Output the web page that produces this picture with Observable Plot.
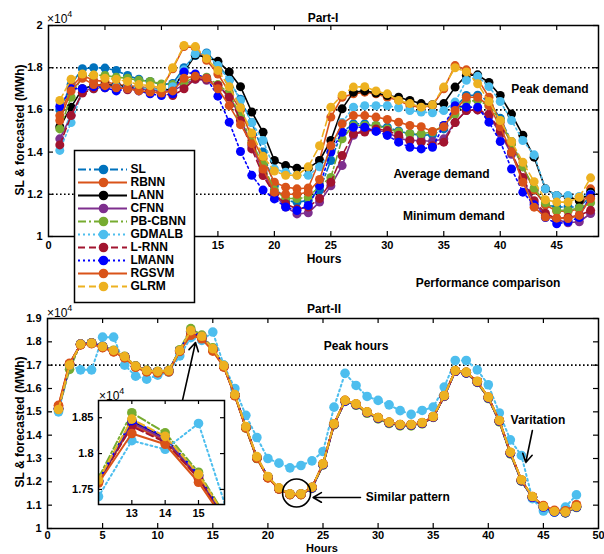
<!DOCTYPE html>
<html><head><meta charset="utf-8">
<script src="https://cdn.jsdelivr.net/npm/d3@7"></script>
<script src="https://cdn.jsdelivr.net/npm/@observablehq/plot@0.6"></script>
<style>
body{margin:0;background:#fff;}
#wrap{position:relative;width:604px;height:554px;overflow:hidden;font-family:'Liberation Sans',Arial,sans-serif;font-weight:bold;color:#000;background:#fff;}
#wrap svg{position:absolute;}
.lbl{position:absolute;white-space:nowrap;font-size:12px;line-height:1;}
.sci{position:absolute;white-space:nowrap;font-size:12px;font-weight:normal;line-height:1;}
.sci sup{font-size:9px;position:relative;top:-1px;}
</style></head><body><div id="wrap"></div>
<script>
const hours = [1,2,3,4,5,6,7,8,9,10,11,12,13,14,15,16,17,18,19,20,21,22,23,24,25,26,27,28,29,30,31,32,33,34,35,36,37,38,39,40,41,42,43,44,45,46,47,48];
const seriesNames = ["SL","RBNN","LANN","CFNN","PB-CBNN","GDMALB","L-RNN","LMANN","RGSVM","GLRM"];
const seriesColors = ["#0072BD","#D95319","#000000","#7E2F8E","#77AC30","#4DBEEE","#A2142F","#0000FF","#D95319","#EDB120"];
const seriesDash = ["8,3,2,3", null, null, null, "8,3,2,3", "2,3", "7,4", "2,3", null, "7,4"];

// Part-I values (x10^4 MWh)
const top_SL = [1.600,1.720,1.795,1.800,1.798,1.787,1.763,1.745,1.735,1.720,1.725,1.800,
1.858,1.870,1.820,1.740,1.650,1.540,1.400,1.240,1.170,1.163,1.170,1.220,
1.360,1.494,1.534,1.534,1.526,1.518,1.500,1.487,1.480,1.482,1.510,1.613,
1.668,1.670,1.640,1.560,1.450,1.330,1.220,1.150,1.140,1.140,1.140,1.190];
const top_RBNN = [1.573,1.708,1.763,1.740,1.735,1.720,1.715,1.710,1.705,1.700,1.795,1.900,
1.895,1.835,1.770,1.684,1.600,1.470,1.370,1.257,1.234,1.226,1.230,1.360,
1.566,1.660,1.676,1.684,1.676,1.660,1.645,1.620,1.613,1.620,1.700,1.810,
1.790,1.747,1.660,1.540,1.440,1.330,1.220,1.150,1.120,1.120,1.130,1.226];
const top_LANN = [1.520,1.613,1.700,1.716,1.720,1.715,1.710,1.700,1.695,1.690,1.700,1.780,
1.860,1.850,1.830,1.780,1.710,1.590,1.494,1.360,1.336,1.324,1.324,1.360,
1.455,1.605,1.684,1.690,1.680,1.668,1.660,1.645,1.630,1.625,1.630,1.708,
1.763,1.766,1.730,1.668,1.580,1.480,1.376,1.226,1.194,1.190,1.170,1.210];
const top_CFNN = [1.463,1.573,1.684,1.708,1.715,1.710,1.705,1.700,1.695,1.690,1.690,1.720,
1.745,1.740,1.710,1.670,1.560,1.430,1.310,1.200,1.140,1.107,1.112,1.163,
1.240,1.336,1.480,1.510,1.502,1.495,1.465,1.455,1.455,1.450,1.463,1.540,
1.597,1.600,1.570,1.490,1.390,1.270,1.160,1.100,1.080,1.065,1.070,1.109];
const top_PBCBNN = [1.510,1.660,1.760,1.765,1.763,1.755,1.750,1.740,1.735,1.723,1.720,1.730,
1.755,1.755,1.720,1.680,1.570,1.447,1.340,1.220,1.180,1.180,1.185,1.240,
1.280,1.463,1.526,1.526,1.526,1.510,1.495,1.487,1.487,1.495,1.526,1.580,
1.640,1.645,1.620,1.550,1.440,1.330,1.230,1.160,1.124,1.124,1.135,1.160];
const top_GDMALB = [1.408,1.540,1.684,1.700,1.708,1.710,1.710,1.705,1.700,1.695,1.710,1.790,
1.866,1.866,1.810,1.740,1.645,1.540,1.455,1.320,1.305,1.290,1.290,1.330,
1.400,1.540,1.613,1.620,1.620,1.620,1.610,1.597,1.590,1.586,1.597,1.637,
1.740,1.760,1.710,1.640,1.550,1.455,1.387,1.226,1.194,1.194,1.190,1.200];
const top_LRNN = [1.434,1.573,1.680,1.700,1.705,1.700,1.695,1.695,1.690,1.678,1.668,1.700,
1.747,1.745,1.716,1.660,1.550,1.415,1.289,1.200,1.155,1.130,1.140,1.180,
1.257,1.384,1.487,1.495,1.510,1.502,1.480,1.455,1.447,1.430,1.447,1.540,
1.597,1.600,1.580,1.500,1.400,1.280,1.170,1.110,1.085,1.090,1.100,1.124];
const top_LMANN = [1.616,1.700,1.700,1.710,1.705,1.690,1.700,1.690,1.676,1.668,1.676,1.780,
1.770,1.750,1.665,1.542,1.403,1.290,1.220,1.178,1.140,1.123,1.147,1.240,
1.400,1.494,1.518,1.518,1.498,1.479,1.447,1.423,1.415,1.423,1.526,1.620,
1.613,1.613,1.542,1.450,1.320,1.210,1.150,1.090,1.060,1.070,1.090,1.198];
const top_RGSVM = [1.550,1.690,1.750,1.720,1.715,1.705,1.700,1.690,1.685,1.680,1.690,1.750,
1.760,1.750,1.700,1.620,1.530,1.440,1.320,1.210,1.200,1.200,1.210,1.270,
1.430,1.534,1.573,1.573,1.566,1.555,1.542,1.526,1.520,1.498,1.520,1.597,
1.660,1.660,1.620,1.520,1.400,1.257,1.139,1.092,1.087,1.085,1.100,1.180];
const top_GLRM = [1.645,1.745,1.770,1.765,1.750,1.745,1.735,1.720,1.715,1.705,1.800,1.905,
1.900,1.843,1.787,1.710,1.610,1.490,1.380,1.310,1.290,1.290,1.330,1.430,
1.613,1.670,1.708,1.710,1.690,1.676,1.645,1.630,1.613,1.624,1.708,1.800,
1.780,1.724,1.640,1.550,1.450,1.352,1.260,1.174,1.163,1.163,1.186,1.278];

// Part-II values (x10^4 MWh)
const bot_SL = [1.513,1.702,1.789,1.794,1.779,1.760,1.735,1.694,1.675,1.671,1.675,1.762,
1.845,1.822,1.770,1.696,1.572,1.434,1.304,1.220,1.171,1.147,1.147,1.174,
1.274,1.446,1.546,1.531,1.497,1.473,1.453,1.443,1.443,1.451,1.477,1.567,
1.674,1.667,1.628,1.560,1.460,1.323,1.205,1.134,1.092,1.071,1.068,1.092];
const bot_RBNN = [1.525,1.706,1.788,1.793,1.776,1.758,1.732,1.692,1.672,1.668,1.672,1.760,
1.840,1.818,1.765,1.693,1.570,1.432,1.302,1.218,1.170,1.146,1.146,1.175,
1.276,1.447,1.548,1.532,1.498,1.474,1.454,1.444,1.444,1.452,1.478,1.568,
1.675,1.668,1.629,1.561,1.461,1.325,1.207,1.136,1.096,1.076,1.074,1.100];
const bot_LANN = [1.512,1.701,1.789,1.794,1.779,1.761,1.736,1.695,1.676,1.672,1.676,1.762,
1.844,1.821,1.769,1.695,1.571,1.433,1.303,1.219,1.172,1.147,1.148,1.175,
1.275,1.447,1.547,1.532,1.498,1.474,1.454,1.444,1.444,1.452,1.478,1.568,
1.675,1.668,1.629,1.561,1.461,1.324,1.206,1.135,1.093,1.072,1.069,1.093];
const bot_CFNN = [1.514,1.702,1.790,1.795,1.779,1.761,1.736,1.695,1.676,1.672,1.676,1.762,
1.843,1.820,1.768,1.695,1.571,1.433,1.304,1.220,1.171,1.147,1.147,1.175,
1.275,1.447,1.547,1.532,1.498,1.474,1.454,1.444,1.444,1.452,1.478,1.568,
1.675,1.668,1.629,1.561,1.461,1.324,1.206,1.135,1.093,1.072,1.069,1.093];
const bot_PBCBNN = [1.508,1.682,1.791,1.796,1.781,1.764,1.738,1.697,1.678,1.674,1.678,1.766,
1.857,1.829,1.774,1.699,1.572,1.430,1.300,1.220,1.170,1.145,1.145,1.172,
1.272,1.444,1.545,1.528,1.494,1.470,1.450,1.440,1.440,1.448,1.476,1.566,
1.674,1.666,1.626,1.557,1.457,1.320,1.203,1.133,1.091,1.070,1.067,1.090];
const bot_GDMALB = [1.500,1.700,1.680,1.680,1.820,1.820,1.700,1.653,1.640,1.657,1.670,1.740,
1.818,1.806,1.842,1.700,1.600,1.485,1.390,1.300,1.280,1.260,1.270,1.290,
1.330,1.520,1.665,1.613,1.566,1.549,1.530,1.505,1.489,1.506,1.520,1.606,
1.720,1.720,1.680,1.616,1.495,1.380,1.313,1.128,1.075,1.070,1.092,1.144];
const bot_LRNN = [1.516,1.703,1.789,1.794,1.778,1.760,1.735,1.694,1.675,1.671,1.675,1.761,
1.838,1.816,1.766,1.694,1.571,1.433,1.303,1.219,1.171,1.147,1.147,1.175,
1.275,1.447,1.547,1.532,1.498,1.474,1.454,1.444,1.444,1.452,1.478,1.568,
1.675,1.668,1.629,1.561,1.461,1.324,1.206,1.135,1.094,1.073,1.070,1.094];
const bot_LMANN = [1.512,1.701,1.790,1.795,1.780,1.761,1.736,1.695,1.676,1.672,1.676,1.762,
1.846,1.823,1.770,1.696,1.572,1.434,1.304,1.220,1.171,1.147,1.147,1.174,
1.274,1.446,1.546,1.531,1.497,1.473,1.453,1.443,1.443,1.451,1.477,1.567,
1.674,1.667,1.628,1.560,1.460,1.323,1.205,1.134,1.092,1.071,1.068,1.092];
const bot_RGSVM = [1.528,1.708,1.787,1.792,1.775,1.757,1.731,1.691,1.671,1.667,1.671,1.759,
1.828,1.813,1.760,1.692,1.569,1.431,1.301,1.217,1.169,1.145,1.145,1.176,
1.277,1.448,1.549,1.533,1.499,1.475,1.455,1.445,1.445,1.453,1.479,1.569,
1.676,1.669,1.630,1.562,1.462,1.326,1.208,1.137,1.098,1.078,1.076,1.102];
const bot_GLRM = [1.510,1.700,1.790,1.795,1.780,1.763,1.737,1.696,1.677,1.673,1.677,1.763,
1.848,1.824,1.771,1.698,1.574,1.437,1.308,1.223,1.174,1.149,1.149,1.177,
1.277,1.449,1.549,1.534,1.500,1.476,1.456,1.446,1.446,1.454,1.480,1.570,
1.677,1.670,1.631,1.563,1.463,1.327,1.209,1.137,1.094,1.073,1.070,1.094];

const topXTickMarks = [5,10,15,20,25,30,35,40,45];
const topXTickLabels = [0,15,20,25,30,35,40,45]; // 5 and 10 lie under the legend
const topYTicks = [1,1.2,1.4,1.6,1.8,2];
const topRefLines = [1.8,1.6,1.2];
const botXTicks = [0,5,10,15,20,25,30,35,40,45,50];
const botYTicks = [1,1.1,1.2,1.3,1.4,1.5,1.6,1.7,1.8,1.9];
const botRefLines = [1.7];
const insetXTicks = [13,14,15];
const insetYTicks = [1.75,1.8,1.85];

const topNotes = [
  {t:"Peak demand", h:44.4, v:1.70},
  {t:"Average demand", h:34.8, v:1.294},
  {t:"Minimum demand", h:35.9, v:1.095}
];
const botNotes = [
  {t:"Peak hours", h:28.0, v:1.78},
  {t:"Varitation", h:44.5, v:1.463},
  {t:"Similar pattern", h:32.7, v:1.133}
];
const botArrows = [
  {h1:12.25, v1:1.549, h2:13.43, v2:1.797},
  {h1:28.4, v1:1.133, h2:24.1, v2:1.133},
  {h1:44.0, v1:1.42, h2:43.4, v2:1.283}
];
const botCircle = [{h:22.6, v:1.152}];

const topVals = [top_SL, top_RBNN, top_LANN, top_CFNN, top_PBCBNN, top_GDMALB, top_LRNN, top_LMANN, top_RGSVM, top_GLRM];
const botVals = [bot_SL, bot_RBNN, bot_LANN, bot_CFNN, bot_PBCBNN, bot_GDMALB, bot_LRNN, bot_LMANN, bot_RGSVM, bot_GLRM];

const FONT = "'Liberation Sans', Arial, Helvetica, sans-serif";
const baseStyle = {fontFamily: FONT, fontSize: "11px", fontWeight: "bold", background: "transparent", overflow: "visible"};

function seriesMarks(vals, sw, r, clip) {
  const marks = [];
  seriesNames.forEach((name, i) => {
    const rows = hours.map((h, j) => ({h, v: vals[i][j]}));
    const lo = {x: "h", y: "v", stroke: seriesColors[i], strokeWidth: sw, clip};
    if (seriesDash[i]) lo.strokeDasharray = seriesDash[i];
    marks.push(Plot.line(rows, lo));
    marks.push(Plot.dot(rows, {x: "h", y: "v", fill: seriesColors[i], r, clip}));
  });
  return marks;
}
function innerTicks(xt, yt, pw, ph, len) {
  return [
    Plot.tickX(xt, {x: d => d, insetTop: ph - len, stroke: "black", strokeWidth: 1.2}),
    Plot.tickX(xt, {x: d => d, insetBottom: ph - len, stroke: "black", strokeWidth: 1.2}),
    Plot.tickY(yt, {y: d => d, insetRight: pw - len, stroke: "black", strokeWidth: 1.2}),
    Plot.tickY(yt, {y: d => d, insetLeft: pw - len, stroke: "black", strokeWidth: 1.2})
  ];
}
const fmt = d => String(d);
const wrap = document.getElementById("wrap");
function place(el, left, top) { el.style.left = left + "px"; el.style.top = top + "px"; wrap.appendChild(el); }

// Top chart
const topChart = Plot.plot({
  width: 604, height: 270, marginTop: 25, marginBottom: 34, marginLeft: 48, marginRight: 6,
  style: baseStyle,
  x: {domain: [0, 48.7], ticks: topXTickLabels, tickSize: 0, tickPadding: 5, tickFormat: fmt, label: null},
  y: {domain: [1, 2], ticks: topYTicks, tickSize: 0, tickPadding: 6, tickFormat: fmt, label: null},
  marks: [
    Plot.ruleY(topRefLines, {y: d => d, stroke: "black", strokeWidth: 1.6, strokeDasharray: "1.6,2.4"}),
    ...seriesMarks(topVals, 1.6, 4.5, false),
    Plot.text(topNotes, {x: "h", y: "v", text: "t", fontSize: 12, fontWeight: "bold", fill: "black"}),
    ...innerTicks(topXTickMarks, topYTicks, 550, 211, 5),
    Plot.frame({stroke: "black", strokeWidth: 1.5})
  ]
});
place(topChart, 0, 0);

// Bottom chart
const botChart = Plot.plot({
  width: 604, height: 264, marginTop: 28, marginBottom: 26, marginLeft: 47, marginRight: 6,
  style: baseStyle,
  x: {domain: [0, 50], ticks: botXTicks, tickSize: 0, tickPadding: 3, tickFormat: fmt, label: null},
  y: {domain: [1, 1.9], ticks: botYTicks, tickSize: 0, tickPadding: 6, tickFormat: fmt, label: null},
  marks: [
    Plot.ruleY(botRefLines, {y: d => d, stroke: "black", strokeWidth: 1.6, strokeDasharray: "1.6,2.4"}),
    ...seriesMarks(botVals, 2, 4.8, false),
    Plot.text(botNotes, {x: "h", y: "v", text: "t", fontSize: 12, fontWeight: "bold", fill: "black"}),
    Plot.arrow(botArrows, {x1: "h1", y1: "v1", x2: "h2", y2: "v2", stroke: "black", strokeWidth: 1.6, headLength: 9}),
    Plot.dot(botCircle, {x: "h", y: "v", r: 14, stroke: "black", strokeWidth: 1.6, fill: "none"}),
    ...innerTicks(botXTicks.slice(1, -1), botYTicks, 551, 210, 5),
    Plot.frame({stroke: "black", strokeWidth: 1.5})
  ]
});
place(botChart, 0, 290);

// Inset
const inset = Plot.plot({
  width: 170, height: 150, marginTop: 20, marginBottom: 26, marginLeft: 38, marginRight: 6,
  style: baseStyle,
  x: {domain: [12, 15.78], ticks: insetXTicks, tickSize: 0, tickPadding: 5, tickFormat: fmt, label: null},
  y: {domain: [1.729, 1.874], ticks: insetYTicks, tickSize: 0, tickPadding: 5, tickFormat: fmt, label: null},
  marks: [
    Plot.frame({fill: "white"}),
    ...seriesMarks(botVals, 2, 4.8, true),
    ...innerTicks(insetXTicks, insetYTicks, 126, 104, 4),
    Plot.frame({stroke: "black", strokeWidth: 1.5})
  ]
});
place(inset, 60, 380);

// Legend
const legMarks = [Plot.frame({fill: "white", stroke: "black", strokeWidth: 1.5})];
seriesNames.forEach((name, i) => {
  const ro = {y: d => d, x1: () => 4, x2: () => 53, stroke: seriesColors[i], strokeWidth: 2};
  if (seriesDash[i]) ro.strokeDasharray = seriesDash[i];
  legMarks.push(Plot.ruleY([name], ro));
  legMarks.push(Plot.dot([name], {x: () => 29, y: d => d, r: 4.8, fill: seriesColors[i]}));
});
legMarks.push(Plot.text(seriesNames, {x: () => 56, y: d => d, text: d => d, textAnchor: "start", fontSize: 12, fontWeight: "bold", fill: "black"}));
const legend = Plot.plot({
  width: 120, height: 152, margin: 0,
  style: baseStyle,
  x: {domain: [0, 120], range: [0, 120], axis: null},
  y: {type: "point", domain: seriesNames, range: [11, 143], axis: null},
  marks: legMarks
});
place(legend, 74, 150);

// HTML texts
function label(html, left, top, cls, transform, size) {
  const d = document.createElement("div");
  d.className = cls || "lbl";
  d.innerHTML = html;
  if (transform) d.style.transform = transform;
  if (size) d.style.fontSize = size;
  place(d, left, top);
  return d;
}
label("&times;10<sup>4</sup>", 47, 11, "sci");
label("Part-I", 323, 12, "lbl", "translate(-50%,0)");
label("Hours", 324, 253, "lbl", "translate(-50%,0)");
label("Performance comparison", 488, 277, "lbl", "translate(-50%,0)");
label("SL &amp; forecasted (MWh)", 20, 130, "lbl", "translate(-50%,-50%) rotate(-90deg)");
label("&times;10<sup>4</sup>", 47, 305, "sci");
label("Part-II", 324, 303, "lbl", "translate(-50%,0)");
label("Hours", 322, 543, "lbl", "translate(-50%,0)", "11px");
label("SL &amp; forecasted (MWh)", 20, 422, "lbl", "translate(-50%,-50%) rotate(-90deg)");
label("&times;10<sup>4</sup>", 99, 388, "sci");
</script></body></html>
